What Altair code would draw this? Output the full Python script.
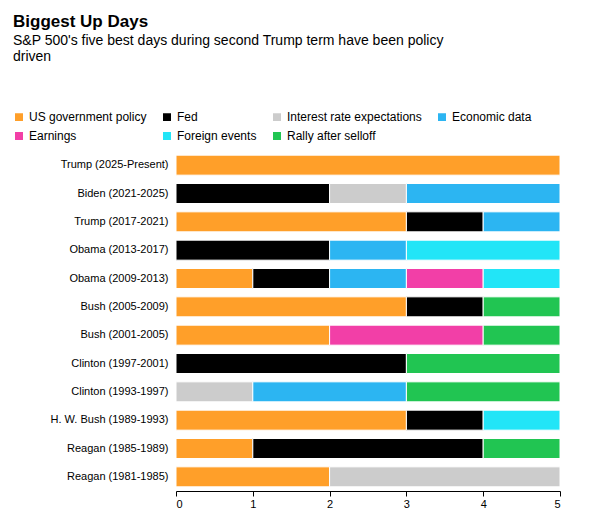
import pandas as pd
import altair as alt

terms = ["Trump (2025-Present)", "Biden (2021-2025)", "Trump (2017-2021)", "Obama (2013-2017)",
         "Obama (2009-2013)", "Bush (2005-2009)", "Bush (2001-2005)", "Clinton (1997-2001)",
         "Clinton (1993-1997)", "H. W. Bush (1989-1993)", "Reagan (1985-1989)", "Reagan (1981-1985)"]
causes = ["US government policy", "Fed", "Interest rate expectations", "Economic data",
          "Earnings", "Foreign events", "Rally after selloff"]
colors = ["#ff9f29", "#000000", "#cccccc", "#2cb5f2", "#f23fa7", "#22e5f7", "#21c552"]

# days per cause, in the order of `causes`
days = [
    [5, 0, 0, 0, 0, 0, 0],
    [0, 2, 1, 2, 0, 0, 0],
    [3, 1, 0, 1, 0, 0, 0],
    [0, 2, 0, 1, 0, 2, 0],
    [1, 1, 0, 1, 1, 1, 0],
    [3, 1, 0, 0, 0, 0, 1],
    [2, 0, 0, 0, 2, 0, 1],
    [0, 3, 0, 0, 0, 0, 2],
    [0, 0, 1, 2, 0, 0, 2],
    [3, 1, 0, 0, 0, 1, 0],
    [1, 3, 0, 0, 0, 0, 1],
    [2, 0, 3, 0, 0, 0, 0],
]

rows = []
for t, vals in zip(terms, days):
    for i, (c, v) in enumerate(zip(causes, vals)):
        if v > 0:
            rows.append({"term": t, "cause": c, "days": v, "k": i})
df = pd.DataFrame(rows)

bars = alt.Chart(df).mark_bar(stroke="white", strokeWidth=1, height=20).encode(
    x=alt.X("days:Q", stack="zero", scale=alt.Scale(domain=[0, 5]),
            axis=alt.Axis(title=None, grid=False, tickCount=5, labelFontSize=11,
                          labelColor="#000", domainColor="#000", tickColor="#000")),
    y=alt.Y("term:N", sort=terms,
            axis=alt.Axis(title=None, ticks=False, domain=False, labelFontSize=11,
                          labelColor="#000", labelPadding=8)),
    color=alt.Color("cause:N", sort=causes, scale=alt.Scale(domain=causes, range=colors),
                    legend=alt.Legend(title=None, orient="none", legendX=-163, legendY=-40,
                                      direction="horizontal", columns=4,
                                      symbolType="square", symbolSize=90,
                                      labelFontSize=12, columnPadding=12, rowPadding=3,
                                      labelLimit=200)),
    order=alt.Order("k:Q"),
)

source = alt.Chart(pd.DataFrame({"t": ["Source: Fundstrat, Bloomberg"]})).mark_text(
    align="left", fontSize=10, color="#333").encode(
    x=alt.value(-163), y=alt.value(385), text="t:N")

chart = (bars + source).properties(
    width=384, height=340,
    title=alt.TitleParams("Biggest Up Days",
                          subtitle=["S&P 500's five best days during second Trump term have been policy",
                                    "driven"],
                          anchor="start", frame="group", dx=-163, fontSize=17, fontWeight="bold",
                          subtitleFontSize=14, subtitleColor="#000", offset=46),
).configure(font="Liberation Sans").configure_view(strokeOpacity=0)

chart.save("out.html", embed_options={"renderer": "svg", "actions": False})
